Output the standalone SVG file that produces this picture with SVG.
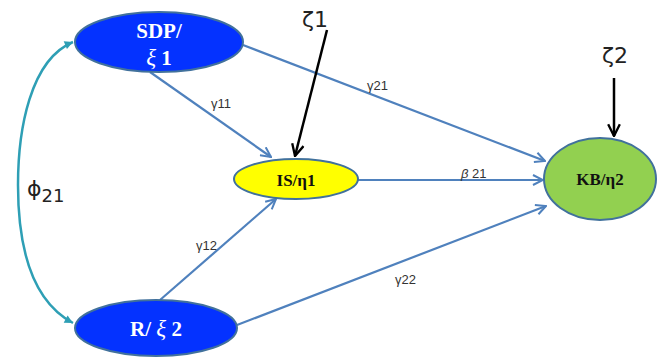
<svg xmlns="http://www.w3.org/2000/svg" width="659" height="358" viewBox="0 0 659 358">
<defs>
<marker id="ab" viewBox="0 0 12 12" refX="11" refY="6" markerWidth="12" markerHeight="12" markerUnits="userSpaceOnUse" orient="auto"><path d="M1,1 L11,6 L1,11" fill="none" stroke="#4f81bd" stroke-width="2"/></marker>
<marker id="ak" viewBox="0 0 12 12" refX="11" refY="6" markerWidth="14" markerHeight="14" markerUnits="userSpaceOnUse" orient="auto"><path d="M1,1 L11,6 L1,11" fill="none" stroke="#000" stroke-width="2"/></marker>
<marker id="at" viewBox="0 0 12 12" refX="11" refY="6" markerWidth="10" markerHeight="10" markerUnits="userSpaceOnUse" orient="auto-start-reverse"><path d="M1,1 L11,6 L1,11 Z" fill="#2e9fb5"/></marker>
</defs>
<style>
.c{fill:none;stroke:#4f81bd;stroke-width:2.2}
.k{fill:none;stroke:#000;stroke-width:2.5}
.lbl{font-family:"Liberation Sans",Arial,sans-serif;font-size:13px;fill:#333}
.big{font-family:"DejaVu Sans",sans-serif;font-size:22px;fill:#222}
.nw{font-family:"Liberation Serif","Times New Roman",serif;font-weight:bold;font-size:21px;fill:#fff;text-anchor:middle}
.nb{font-family:"Liberation Serif","Times New Roman",serif;font-weight:bold;font-size:17px;fill:#111;text-anchor:middle}
</style>
<g id="connectors">
<path class="c" d="M150,72 L271,157" marker-end="url(#ab)"/>
<path class="c" d="M243,45 L545,161" marker-end="url(#ab)"/>
<path class="c" d="M358,180 L543,180" marker-end="url(#ab)"/>
<path class="c" d="M160,300 L276,199" marker-end="url(#ab)"/>
<path class="c" d="M237,325 L546,206" marker-end="url(#ab)"/>
<path d="M73,42 C30,60 18,130 18,185 C18,245 30,300 73,323" fill="none" stroke="#2e9fb5" stroke-width="2.5" marker-start="url(#at)" marker-end="url(#at)"/>
<path class="k" d="M327,30 L295,156" marker-end="url(#ak)"/>
<path class="k" d="M614,78 L614,136" marker-end="url(#ak)"/>
<text class="lbl" x="211" y="108">γ11</text>
<text class="lbl" x="367" y="90">γ21</text>
<text class="lbl" x="461" y="178"><tspan font-style="italic">β</tspan> 21</text>
<text class="lbl" x="196" y="250">γ12</text>
<text class="lbl" x="395" y="284">γ22</text>
<text class="big" x="302" y="27">ζ1</text>
<text class="big" x="602" y="63">ζ2</text>
<text class="big" x="27" y="196">ϕ<tspan font-size="18" dy="6">21</tspan></text>
</g>
<g id="sdp">
<ellipse cx="159" cy="42" rx="84" ry="30" fill="#0432ff" stroke="#41719c" stroke-width="2"/>
<text class="nw" x="159" y="38">SDP/</text>
<text class="nw" x="159" y="65"><tspan font-style="italic" font-weight="normal" font-size="23">ξ</tspan> 1</text>
</g>
<g id="r">
<ellipse cx="156" cy="328" rx="81" ry="28" fill="#0432ff" stroke="#41719c" stroke-width="2"/>
<text class="nw" x="156" y="336">R/ <tspan font-style="italic" font-weight="normal" font-size="23">ξ</tspan> 2</text>
</g>
<g id="is">
<ellipse cx="296" cy="179" rx="62" ry="20" fill="#ffff00" stroke="#41719c" stroke-width="2"/>
<text class="nb" x="296" y="186" font-size="19">IS/η1</text>
</g>
<g id="kb">
<ellipse cx="600" cy="179" rx="56" ry="41" fill="#92d050" stroke="#41719c" stroke-width="2"/>
<text class="nb" x="600" y="185">KB/η2</text>
</g>
</svg>
